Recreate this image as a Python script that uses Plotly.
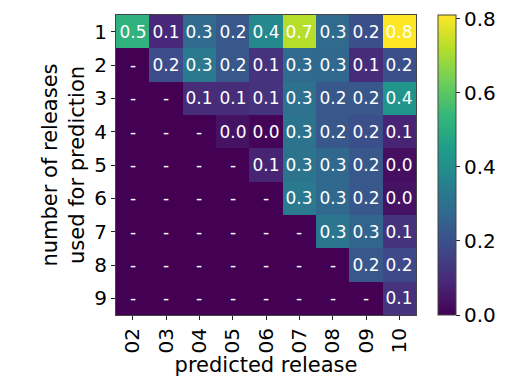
import plotly.graph_objects as go

releases = ["02", "03", "04", "05", "06", "07", "08", "09", "10"]
n_used = ["1", "2", "3", "4", "5", "6", "7", "8", "9"]

# None = not available ("-")
values = [
    [0.52, 0.09, 0.28, 0.22, 0.38, 0.72, 0.28, 0.20, 0.81],
    [None, 0.19, 0.33, 0.22, 0.12, 0.28, 0.27, 0.10, 0.20],
    [None, None, 0.10, 0.10, 0.12, 0.30, 0.22, 0.22, 0.42],
    [None, None, None, 0.04, 0.01, 0.31, 0.22, 0.20, 0.08],
    [None, None, None, None, 0.08, 0.31, 0.27, 0.22, 0.03],
    [None, None, None, None, None, 0.33, 0.27, 0.22, 0.04],
    [None, None, None, None, None, None, 0.32, 0.26, 0.12],
    [None, None, None, None, None, None, None, 0.22, 0.18],
    [None, None, None, None, None, None, None, None, 0.12],
]

z = [[0 if v is None else v for v in row] for row in values]
text = [["-" if v is None else f"{v:.1f}" for v in row] for row in values]

fig = go.Figure(go.Heatmap(
    x=releases, y=n_used, z=z,
    text=text, texttemplate="%{text}",
    textfont=dict(color="white", size=17, family="DejaVu Sans"),
    colorscale="Viridis", zmin=0, zmax=max(max(r) for r in z),
    colorbar=dict(
        x=1.073, xanchor="left", xpad=0, y=0.5, yanchor="middle", ypad=0,
        len=1.0, lenmode="fraction", thickness=18,
        outlinecolor="#444", outlinewidth=1,
        tickvals=[0, 0.2, 0.4, 0.6, 0.8], ticktext=["0.0", "0.2", "0.4", "0.6", "0.8"],
        ticks="outside", ticklen=4, tickcolor="#222",
        ticklabeloverflow="allow",
        tickfont=dict(size=20, color="black"),
    ),
))

# page body has an 8px margin, so the figure is sized to the visible area
fig.update_layout(
    width=510, height=380,
    margin=dict(l=108, r=102, t=7, b=73, autoexpand=False),
    paper_bgcolor="white", plot_bgcolor="white",
    font=dict(family="DejaVu Sans", color="black"),
    xaxis=dict(
        title=dict(text="predicted release", font=dict(size=21), standoff=2),
        tickangle=-90, tickfont=dict(size=20), automargin=False,
        ticks="outside", ticklen=4, tickcolor="#222",
        showline=True, linecolor="#444", mirror=True, linewidth=1,
    ),
    yaxis=dict(
        title=dict(text="number of releases<br>used for prediction", font=dict(size=21), standoff=3),
        autorange="reversed", tickfont=dict(size=20), automargin=False,
        ticks="outside", ticklen=4, tickcolor="#222",
        showline=True, linecolor="#444", mirror=True, linewidth=1,
    ),
)

fig.write_html("out.html")
